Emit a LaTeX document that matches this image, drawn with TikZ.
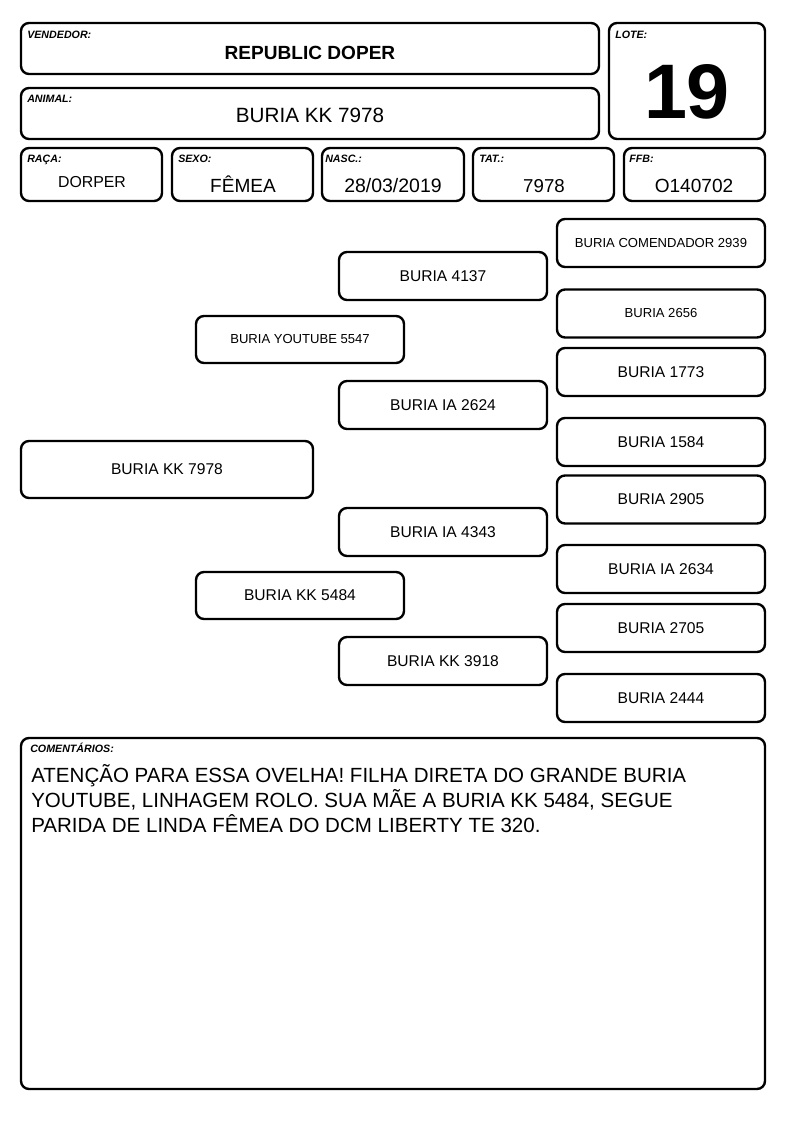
\documentclass[tikz,border=0pt]{standalone}
\usepackage{fontspec}
\setmainfont{Liberation Sans}
\newcommand{\fsz}[1]{\fontsize{#1}{#1}\selectfont}
\begin{document}
\begin{tikzpicture}[x=0.75pt,y=-0.75pt, line join=round,
    card/.style={draw, line width=1.8pt, rounded corners=6pt},
    ped/.style={card, inner sep=0pt},
    lbl/.style={anchor=base west, inner sep=0pt, font=\bfseries\itshape\fsz{8}},
    val/.style={anchor=base, inner sep=0pt}]
    \useasboundingbox (0,0) rectangle (794,1123);
    % cabecalho
    \draw[card] (21,23) rectangle (599,74);
    \draw[card] (21,88) rectangle (599,139);
    \draw[card] (609,23) rectangle (765,139);
    \draw[card] (21,148) rectangle (162,201);
    \draw[card] (172,148) rectangle (313,201);
    \draw[card] (322,148) rectangle (464,201);
    \draw[card] (473,148) rectangle (614,201);
    \draw[card] (624,148) rectangle (765,201);
    \node[lbl] (lvend) at (27,39) {VENDEDOR:};
    \node[lbl] (lanim) at (27,103) {ANIMAL:};
    \node[lbl] (llote) at (615,39) {LOTE:};
    \node[lbl] (lraca) at (27,163) {RAÇA:};
    \node[lbl] (lsexo) at (178,163) {SEXO:};
    \node[lbl] (lnasc) at (325,163) {NASC.:};
    \node[lbl] (ltat) at (479,163) {TAT.:};
    \node[lbl] (lffb) at (629,163) {FFB:};
    \node[val, font=\bfseries\fsz{14.3}] (vend) at (310,60) {REPUBLIC DOPER};
    \node[val, font=\fsz{15.5}] (anim) at (310,123) {BURIA KK 7978};
    \node[val, font=\bfseries\fsz{58}] (lote) at (687,119) {19};
    \node[val, font=\fsz{11.9}] (raca) at (92,188) {DORPER};
    \node[val, font=\fsz{14.3}] (sexo) at (243,193) {FÊMEA};
    \node[val, font=\fsz{14.6}] (nasc) at (393,193) {28/03/2019};
    \node[val, font=\fsz{14}] (tat) at (544,193) {7978};
    \node[val, font=\fsz{14.3}] (ffb) at (694,193) {O140702};
    % genealogia
    \foreach \n/\x/\y/\w/\h/\s/\t in {
        an/167/469.5/292/57/11.7/BURIA KK 7978,
        pai/300/339.5/208/47/9.8/BURIA YOUTUBE 5547,
        mae/300/595.5/208/47/11.7/BURIA KK 5484,
        av1/443/276/208/48/11.7/BURIA 4137,
        av2/443/405/208/48/11.7/BURIA IA 2624,
        av3/443/532/208/48/11.7/BURIA IA 4343,
        av4/443/661/208/48/11.7/BURIA KK 3918,
        bis1/661/243/208/48/9.8/BURIA COMENDADOR 2939,
        bis2/661/313.5/208/48/9.8/BURIA 2656,
        bis3/661/372/208/48/11.7/BURIA 1773,
        bis4/661/442/208/48/11.7/BURIA 1584,
        bis5/661/499.5/208/48/11.7/BURIA 2905,
        bis6/661/569/208/48/11.7/BURIA IA 2634,
        bis7/661/628/208/48/11.7/BURIA 2705,
        bis8/661/698/208/48/11.7/BURIA 2444}
        \node[ped, minimum width=\w*0.75pt, minimum height=\h*0.75pt, font=\fsz{\s}] (\n) at (\x,\y) {\t};
    % comentarios
    \draw[card] (21,738) rectangle (765,1089);
    \node[lbl] (lcom) at (30,752) {COMENTÁRIOS:};
    \node[anchor=north west, align=left, inner sep=0pt, font=\fontsize{15.4}{18.75}\selectfont] (com) at (31,764)
        {ATENÇÃO PARA ESSA OVELHA! FILHA DIRETA DO GRANDE BURIA\\
         YOUTUBE, LINHAGEM ROLO. SUA MÃE A BURIA KK 5484, SEGUE\\
         PARIDA DE LINDA FÊMEA DO DCM LIBERTY TE 320.};
\end{tikzpicture}
\end{document}
